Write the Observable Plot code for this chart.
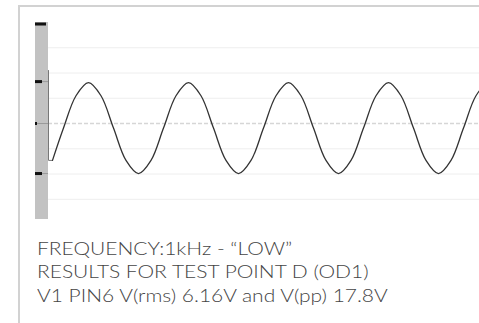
<!DOCTYPE html>
<html>
<head>
<meta charset="utf-8">
<script src="https://cdn.jsdelivr.net/npm/d3@7"></script>
<script src="https://cdn.jsdelivr.net/npm/@observablehq/plot@0.6"></script>
<style>
  html, body { margin: 0; padding: 0; background: #fff; width: 479px; height: 323px; overflow: hidden; }
  #card { position: absolute; left: 18px; top: 5px; width: 600px; height: 400px;
          border-top: 2px solid #d2d2d2; border-left: 2px solid #d2d2d2; box-sizing: border-box; }
  #chart { position: absolute; left: 0; top: 0; }
  #caption { position: absolute; left: 37px; top: 237px; font-family: Lato, sans-serif; font-weight: 300;
             font-size: 17.2px; line-height: 23.3px; color: #444; white-space: nowrap;
             transform: scaleX(1.22); transform-origin: 0 0; }
</style>
</head>
<body>
<div id="card"></div>
<div id="chart"></div>
<div id="caption"></div>
<script>
// Time in ms (1 kHz signal), voltage in V
const traceT = [0.04, 0.15, 0.275, 0.40, 0.525, 0.65, 0.775, 0.90, 1.025,
                1.15, 1.275, 1.40, 1.525, 1.65, 1.775, 1.90, 2.025,
                2.15, 2.275, 2.40, 2.525, 2.65, 2.775, 2.90, 3.025,
                3.15, 3.275, 3.40, 3.525, 3.65, 3.775, 3.90, 4.025,
                4.15, 4.275, 4.40, 4.525];
const traceV = [-7.3, -0.9, 5.5, 8.1, 5.5, -0.9, -7.3, -9.9, -7.3,
                -0.9, 5.5, 8.1, 5.5, -0.9, -7.3, -9.9, -7.3,
                -0.9, 5.5, 8.1, 5.5, -0.9, -7.3, -9.9, -7.3,
                -0.9, 5.5, 8.1, 5.5, -0.9, -7.3, -9.9, -7.3,
                -0.9, 5.5, 8.1, 5.5];
// trigger step at the start of the sweep
const stepT = [0, 0, 0.04];
const stepV = [10.5, -7.3, -7.3];
// level markers on the left scale
const markerV = [19.7, 8.3, 0, -9.9];
const markerLen = [0.11, 0.07, 0.02, 0.07]; // length along time axis (ms)
const markerGuide = [false, true, true, true];
// graticule
const gridV = [-15, -10, -5, 5, 10, 15];
const centerV = [0];
// scale bar extent
const barV = [-19, 20];
const barT = [-0.13, 0];
const tEnd = 4.31;

const trace = traceT.map((t, i) => ({t, v: traceV[i]}));
const step = stepT.map((t, i) => ({t, v: stepV[i]}));
const markers = markerV.map((v, i) => ({v, len: markerLen[i], guide: markerGuide[i]}));

const chart = Plot.plot({
  width: 479,
  height: 230,
  margin: 0,
  x: {domain: [-0.48, tEnd], range: [0, 479], axis: null},
  y: {domain: barV, range: [219, 22], axis: null},
  marks: [
    Plot.rectY([{}], {x1: barT[0], x2: barT[1], y1: barV[0], y2: barV[1], fill: "#c2c2c2"}),
    Plot.ruleY(gridV, {x1: 0, x2: tEnd, stroke: "#eeeeee", strokeWidth: 1}),
    Plot.ruleY(markers.filter(d => d.guide), {y: "v", x1: barT[0], x2: barT[1], stroke: "#9a9a9a", strokeWidth: 1}),
    Plot.ruleY(centerV, {x1: 0, x2: tEnd, stroke: "#d6d6d6", strokeWidth: 1.5, strokeDasharray: "4,2"}),
    Plot.ruleY(markers, {y: "v", x1: barT[0], x2: d => barT[0] + d.len, stroke: "#111", strokeWidth: 3}),
    Plot.line(step, {x: "t", y: "v", stroke: "#777", strokeWidth: 1}),
    Plot.line(trace, {x: "t", y: "v", stroke: "#333", strokeWidth: 1.3, curve: "catmull-rom", clip: true})
  ]
});
document.getElementById("chart").append(chart);

const captionLines = [
  "FREQUENCY:1kHz - “LOW”",
  "RESULTS FOR TEST POINT D (OD1)",
  "V1 PIN6 V(rms) 6.16V and V(pp) 17.8V"
];
const cap = document.getElementById("caption");
captionLines.forEach(s => { const d = document.createElement("div"); d.textContent = s; cap.append(d); });
</script>
</body>
</html>
